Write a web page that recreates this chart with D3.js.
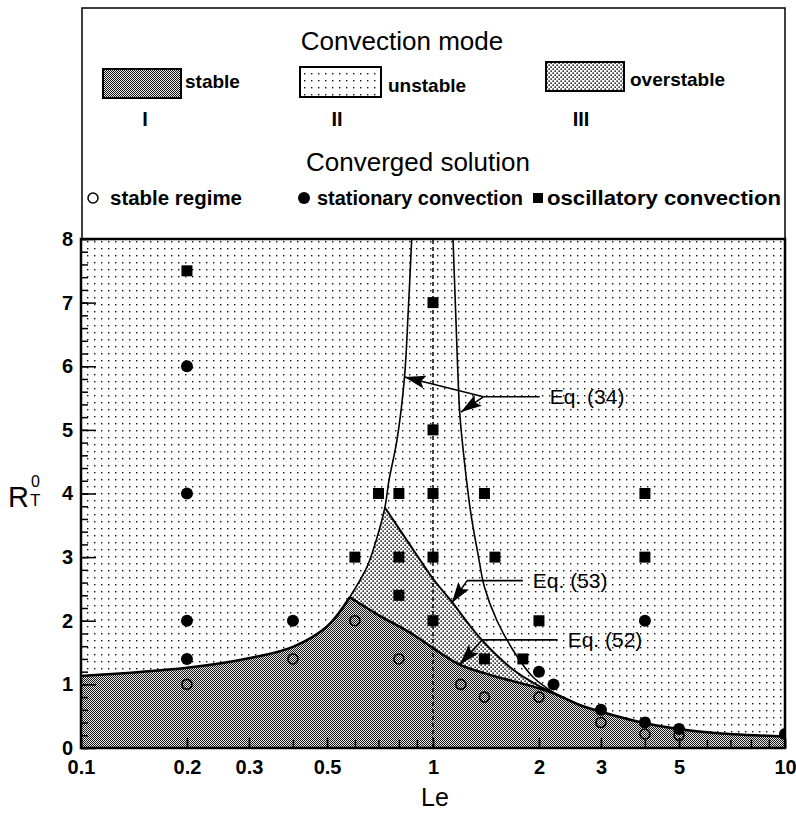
<!DOCTYPE html>
<html>
<head>
<meta charset="utf-8">
<script src="https://cdn.jsdelivr.net/npm/d3@7"></script>
<style>
  body { margin: 0; background: #fff; }
  svg { display: block; font-family: "Liberation Sans", Arial, Helvetica, sans-serif; }
</style>
</head>
<body>
<div id="chart"></div>
<script>
// axis ticks
const leTicks = [0.1, 0.2, 0.3, 0.5, 1, 2, 3, 5, 10];
const rTicks = [0, 1, 2, 3, 4, 5, 6, 7, 8];

// region boundaries, [Le, R]
const stableLeft = [[0.1, 1.13], [0.2, 1.26], [0.3, 1.41], [0.4, 1.59], [0.5, 1.91], [0.58, 2.37]];
const stableRight = [[0.58, 2.37], [0.71, 2.07], [0.79, 1.93], [0.88, 1.78], [1.0, 1.57], [1.19, 1.31],
  [1.45, 1.15], [1.77, 1.02], [2.0, 0.94], [2.2, 0.86], [2.6, 0.68], [3.0, 0.57], [4.0, 0.39],
  [5.0, 0.30], [6.2, 0.24], [10, 0.18]];
const eq34Left = [[0.58, 2.37], [0.65, 2.85], [0.69, 3.27], [0.73, 3.78], [0.75, 4.21], [0.79, 4.84],
  [0.83, 5.83], [0.85, 6.84], [0.87, 8.0]];
const eq34Right = [[1.14, 8.0], [1.16, 6.84], [1.19, 5.3], [1.21, 4.84], [1.28, 3.7], [1.34, 3.07],
  [1.40, 2.53], [1.52, 2.0], [1.71, 1.49], [1.92, 1.12], [2.2, 0.87]];
const eq53 = [[0.73, 3.78], [0.9, 3.03], [1.0, 2.66], [1.13, 2.30], [1.36, 1.73], [1.69, 1.23],
  [1.98, 0.99], [2.2, 0.87]];

// converged solutions
const stableRegime = [[0.2, 1.0], [0.4, 1.4], [0.6, 2.0], [0.8, 1.4], [1.2, 1.0], [1.4, 0.8],
  [2, 0.8], [3, 0.4], [4, 0.22], [5, 0.2]];
const stationary = [[0.2, 6], [0.2, 4], [0.2, 2], [0.2, 1.4], [0.4, 2], [2, 1.2], [2.2, 1.0],
  [3, 0.6], [4, 2], [4, 0.4], [5, 0.3], [10, 0.22]];
const oscillatory = [[0.2, 7.5], [1, 7], [1, 5], [0.7, 4], [0.8, 4], [1, 4], [1.4, 4], [4, 4],
  [0.6, 3], [0.8, 3], [1, 3], [1.5, 3], [4, 3], [0.8, 2.4], [1, 2], [2, 2], [1.4, 1.4], [1.8, 1.4]];

// legend text
const modeNames = ["stable", "unstable", "overstable"];
const modeNumerals = ["I", "II", "III"];
const solutionNames = ["stable regime", "stationary convection", "oscillatory convection"];

// equation callouts: label start, elbow and arrow tips in [Le, R]
const eqLabels = [
  { text: "Eq. (34)", from: [2.01, 5.52], elbow: [1.39, 5.52], tips: [[0.83, 5.83], [1.20, 5.28]] },
  { text: "Eq. (53)", from: [1.80, 2.63], elbow: [1.25, 2.63], tips: [[1.13, 2.28]] },
  { text: "Eq. (52)", from: [2.26, 1.70], elbow: [1.38, 1.70], tips: [[1.19, 1.31]] }
];

const width = 796, height = 814;
const mLeft = 81, mRight = 785, mTop = 239, mBottom = 748;

const svg = d3.select("#chart").append("svg")
  .attr("width", width)
  .attr("height", height);

const x = d3.scaleLog().domain([0.1, 10]).range([mLeft, mRight]);
const y = d3.scaleLinear().domain([0, 8]).range([mBottom, mTop]);

// fill patterns
const defs = svg.append("defs");

const pUn = defs.append("pattern").attr("id", "unstable")
  .attr("patternUnits", "userSpaceOnUse").attr("width", 7).attr("height", 7);
pUn.append("rect").attr("width", 7).attr("height", 7).attr("fill", "#fff");
pUn.append("rect").attr("x", 3).attr("y", 3).attr("width", 1.4).attr("height", 1.4).attr("fill", "#111");

const pOver = defs.append("pattern").attr("id", "overstable")
  .attr("patternUnits", "userSpaceOnUse").attr("width", 4).attr("height", 4);
pOver.append("rect").attr("width", 4).attr("height", 4).attr("fill", "#fff");
pOver.append("rect").attr("x", 0.4).attr("y", 0.4).attr("width", 1.5).attr("height", 1.5).attr("fill", "#111");
pOver.append("rect").attr("x", 2.4).attr("y", 2.4).attr("width", 1.5).attr("height", 1.5).attr("fill", "#111");

const pSt = defs.append("pattern").attr("id", "stable")
  .attr("patternUnits", "userSpaceOnUse").attr("width", 2).attr("height", 2);
pSt.append("rect").attr("width", 2).attr("height", 2).attr("fill", "#e6e6e6");
pSt.append("rect").attr("width", 1).attr("height", 1).attr("fill", "#1a1a1a");
pSt.append("rect").attr("x", 1).attr("y", 1).attr("width", 1).attr("height", 1).attr("fill", "#1a1a1a");

defs.append("clipPath").attr("id", "plotClip")
  .append("rect").attr("x", mLeft).attr("y", mTop).attr("width", mRight - mLeft).attr("height", mBottom - mTop);

// arrow heads
defs.append("marker").attr("id", "head")
  .attr("markerUnits", "userSpaceOnUse")
  .attr("viewBox", "-24 -8 26 16")
  .attr("markerWidth", 26).attr("markerHeight", 16)
  .attr("refX", 0).attr("refY", 0)
  .attr("orient", "auto")
  .append("path").attr("d", "M0,0L-21,-6.5L-17,0L-21,6.5Z").attr("fill", "#000");

// ---- legend box ----
const legend = svg.append("g");
legend.append("rect")
  .attr("x", 82).attr("y", 8).attr("width", mRight - 82).attr("height", mTop - 8)
  .attr("fill", "#fff").attr("stroke", "#000").attr("stroke-width", 1.5);

legend.append("text").attr("x", 402).attr("y", 50).attr("text-anchor", "middle")
  .attr("font-size", 26).text("Convection mode");

const swatches = [
  { id: "stable", x: 103, y: 69, w: 78, h: 29, tx: 185, ty: 88, nx: 145 },
  { id: "unstable", x: 300, y: 67, w: 81, h: 30, tx: 388, ty: 92, nx: 337 },
  { id: "overstable", x: 546, y: 62, w: 78, h: 29, tx: 630, ty: 86, nx: 581 }
];
swatches.forEach((s, i) => {
  legend.append("rect").attr("x", s.x).attr("y", s.y).attr("width", s.w).attr("height", s.h)
    .attr("fill", `url(#${s.id})`).attr("stroke", "#000").attr("stroke-width", 2);
  legend.append("text").attr("x", s.tx).attr("y", s.ty)
    .attr("font-size", 19).attr("font-weight", "bold").text(modeNames[i]);
  legend.append("text").attr("x", s.nx).attr("y", 126).attr("text-anchor", "middle")
    .attr("font-size", 20).attr("font-weight", "bold").text(modeNumerals[i]);
});

legend.append("text").attr("x", 418).attr("y", 171).attr("text-anchor", "middle")
  .attr("font-size", 26).text("Converged solution");

legend.append("circle").attr("cx", 93).attr("cy", 198).attr("r", 5)
  .attr("fill", "none").attr("stroke", "#000").attr("stroke-width", 1.5);
legend.append("circle").attr("cx", 304).attr("cy", 198).attr("r", 6).attr("fill", "#000");
legend.append("rect").attr("x", 533).attr("y", 193).attr("width", 10).attr("height", 10).attr("fill", "#000");
const rowText = [{ x: 110, w: 132 }, { x: 317, w: 206 }, { x: 547, w: 234 }];
rowText.forEach((r, i) => {
  legend.append("text").attr("x", r.x).attr("y", 205)
    .attr("font-size", 20).attr("font-weight", "bold")
    .attr("textLength", r.w).attr("lengthAdjust", "spacingAndGlyphs")
    .text(solutionNames[i]);
});

// ---- regions ----
const plot = svg.append("g").attr("clip-path", "url(#plotClip)");

const smooth = d3.line().x(d => x(d[0])).y(d => y(d[1])).curve(d3.curveCatmullRom.alpha(0.5));
const straight = d3.line().x(d => x(d[0])).y(d => y(d[1]));
const under = d3.area().x(d => x(d[0])).y0(y(0)).y1(d => y(d[1])).curve(d3.curveCatmullRom.alpha(0.5));

plot.append("rect").attr("x", mLeft).attr("y", mTop).attr("width", mRight - mLeft).attr("height", mBottom - mTop)
  .attr("fill", "url(#unstable)");

// overstable wedge: left Eq.(34) branch up to the vertex, then Eq.(53) down, closed below
const vertexIdx = 4;
const overPath = smooth(eq34Left.slice(0, vertexIdx))
  + smooth(eq53).replace(/^M/, "L")
  + straight([[2.2, 0], [0.58, 0]]).replace(/^M/, "L") + "Z";
plot.append("path").attr("d", overPath).attr("fill", "url(#overstable)");

plot.append("path").attr("d", under(stableLeft) + under(stableRight)).attr("fill", "url(#stable)");

// boundary curves
plot.append("path").attr("d", smooth(eq34Left)).attr("fill", "none").attr("stroke", "#000").attr("stroke-width", 1.6);
plot.append("path").attr("d", smooth(eq34Right)).attr("fill", "none").attr("stroke", "#000").attr("stroke-width", 1.6);
plot.append("path").attr("d", smooth(eq53)).attr("fill", "none").attr("stroke", "#000").attr("stroke-width", 2);
plot.append("path").attr("d", smooth(stableLeft) + smooth(stableRight))
  .attr("fill", "none").attr("stroke", "#000").attr("stroke-width", 2.5);

// Le = 1
plot.append("line").attr("x1", x(1)).attr("x2", x(1)).attr("y1", y(0)).attr("y2", y(8))
  .attr("stroke", "#000").attr("stroke-width", 1.5).attr("stroke-dasharray", "4,3");

// ---- converged solutions ----
plot.selectAll(".open").data(stableRegime).enter().append("circle")
  .attr("cx", d => x(d[0])).attr("cy", d => y(d[1])).attr("r", 5)
  .attr("fill", "none").attr("stroke", "#000").attr("stroke-width", 1.6);
plot.selectAll(".dot").data(stationary).enter().append("circle")
  .attr("cx", d => x(d[0])).attr("cy", d => y(d[1])).attr("r", 6).attr("fill", "#000");
plot.selectAll(".sq").data(oscillatory).enter().append("rect")
  .attr("x", d => x(d[0]) - 5.5).attr("y", d => y(d[1]) - 5.5)
  .attr("width", 11).attr("height", 11).attr("fill", "#000");

// ---- equation callouts ----
eqLabels.forEach(e => {
  svg.append("line")
    .attr("x1", x(e.from[0])).attr("y1", y(e.from[1]))
    .attr("x2", x(e.elbow[0])).attr("y2", y(e.elbow[1]))
    .attr("stroke", "#000").attr("stroke-width", 1.6);
  e.tips.forEach(t => {
    svg.append("line")
      .attr("x1", x(e.elbow[0])).attr("y1", y(e.elbow[1]))
      .attr("x2", x(t[0])).attr("y2", y(t[1]))
      .attr("stroke", "#000").attr("stroke-width", 1.6)
      .attr("marker-end", "url(#head)");
  });
  svg.append("text")
    .attr("x", x(e.from[0]) + 10).attr("y", y(e.from[1]) + 7)
    .attr("font-size", 21).text(e.text);
});

// ---- axes ----
const axL = svg.append("g").attr("transform", `translate(${mLeft},0)`);
axL.call(d3.axisLeft(y).ticks(40).tickSize(-7).tickFormat(""));
axL.call(g => g.append("g").call(d3.axisLeft(y).tickValues(rTicks).tickSize(-15).tickPadding(8)));
axL.selectAll("text").attr("font-size", 20).attr("font-weight", "bold").attr("fill", "#000")
  .attr("font-family", "Liberation Sans, Arial, sans-serif");

const axB = svg.append("g").attr("transform", `translate(0,${mBottom})`);
axB.call(d3.axisBottom(x).ticks(20).tickSize(-8).tickFormat(""));
axB.call(g => g.append("g").call(d3.axisBottom(x).tickValues(leTicks).tickSize(-10).tickPadding(12)
  .tickFormat(d => String(d))));
axB.selectAll("text").attr("font-size", 20).attr("font-weight", "bold").attr("fill", "#000")
  .attr("font-family", "Liberation Sans, Arial, sans-serif");

svg.selectAll(".domain").remove();
svg.selectAll(".tick line").attr("stroke", "#000").attr("stroke-width", 1.5);

// frame
svg.append("rect").attr("x", mLeft).attr("y", mTop).attr("width", mRight - mLeft).attr("height", mBottom - mTop)
  .attr("fill", "none").attr("stroke", "#000").attr("stroke-width", 2.5);

// axis titles
svg.append("text").attr("x", 435).attr("y", 806).attr("text-anchor", "middle")
  .attr("font-size", 25).text("Le");

const rLab = svg.append("text").attr("x", 8).attr("y", 507).attr("font-size", 29);
rLab.append("tspan").text("R");
svg.append("text").attr("x", 30).attr("y", 506).attr("font-size", 17).text("T");
svg.append("text").attr("x", 31).attr("y", 487).attr("font-size", 16).text("0");
</script>
</body>
</html>
